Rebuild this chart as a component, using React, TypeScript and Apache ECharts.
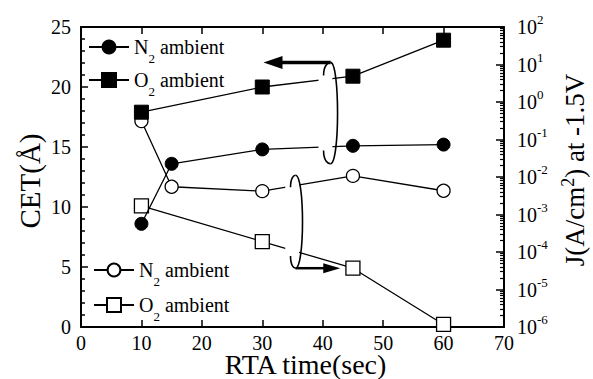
import { useEffect, useRef } from 'react';
import * as echarts from 'echarts';

// ---- data ----
const xTickValues = [0, 10, 20, 30, 40, 50, 60, 70];
const cetN2X = [10, 15, 30, 45, 60];
const cetN2 = [8.6, 13.6, 14.8, 15.1, 15.2];
const cetO2X = [10, 30, 45, 60];
const cetO2 = [17.9, 20.0, 20.9, 23.9];
const jN2X = [10, 15, 30, 45, 60];
const jN2 = [0.31, 5.5e-3, 4.2e-3, 1.07e-2, 4.3e-3];
const jO2X = [10, 30, 45, 60];
const jO2 = [1.7e-3, 1.9e-4, 3.7e-5, 1.17e-6];
const cetTicks = [0, 5, 10, 15, 20, 25];
const jExponents = [-6, -5, -4, -3, -2, -1, 0, 1, 2];

const FONT = 'Liberation Serif';

const pts = (xs: number[], ys: number[]) => xs.map((x, i) => [x, ys[i]]);

const minorExp: number[] = [];
for (let e = jExponents[0]; e < jExponents[jExponents.length - 1]; e++) {
  for (let k = 2; k <= 9; k++) minorExp.push(e + Math.log10(k));
}

const legendText = (name: string) =>
  name.startsWith('N') ? '{t|N}{sub|2}{t| ambient}' : '{t|O}{sub|2}{t| ambient}';

const legendRich = {
  t: { fontSize: 20, fontFamily: FONT, color: '#000', lineHeight: 20 },
  sub: { fontSize: 13, fontFamily: FONT, color: '#000', lineHeight: 13, padding: [22, 0, 0, 0] },
};

type C = (x: number, y: number) => number[];

const gapPoly = (c: C, xs: number[], ys: number[], i: number, xa: number, xb: number) => {
  const p0 = c(xs[i], ys[i]);
  const p1 = c(xs[i + 1], ys[i + 1]);
  const ax = c(xa, ys[i])[0];
  const bx = c(xb, ys[i])[0];
  const yAt = (X: number) => p0[1] + ((X - p0[0]) / (p1[0] - p0[0])) * (p1[1] - p0[1]);
  return {
    type: 'polygon',
    shape: { points: [[ax, yAt(ax) - 3.5], [bx, yAt(bx) - 3.5], [bx, yAt(bx) + 3.5], [ax, yAt(ax) + 3.5]] },
    style: { fill: '#fff', stroke: null },
  };
};

const lasso = (top: number[], bot: number[], w: number, hw: number) => {
  const x = top[0];
  const y = top[1];
  const h = bot[1] - top[1];
  const st = { stroke: '#000', fill: null, lineWidth: 1.6 };
  return [
    { type: 'bezierCurve', shape: { x1: x - hw, y1: y + 0.13 * h, cpx1: x - hw, cpy1: y + 0.03 * h, cpx2: x - hw * 0.4, cpy2: y, x2: x, y2: y }, style: st },
    { type: 'bezierCurve', shape: { x1: x, y1: y, cpx1: x + w * 1.33, cpy1: y, cpx2: x + w * 1.33, cpy2: y + h, x2: x, y2: y + h }, style: st },
    { type: 'bezierCurve', shape: { x1: x, y1: y + h, cpx1: x - hw * 0.4, cpy1: y + h, cpx2: x - hw, cpy2: y + 0.97 * h, x2: x - hw, y2: y + 0.87 * h }, style: st },
  ];
};

const CSS = `#cet-chart text, #cet-chart tspan { font-family: "Liberation Serif", "Times New Roman", serif !important; }`;

export default function App() {
  const ref = useRef<HTMLDivElement>(null);
  useEffect(() => {
    if (!ref.current) return;
    const chart = echarts.init(ref.current, undefined, { renderer: 'svg' });
    const axisLine = { show: true, onZero: false, lineStyle: { color: '#000', width: 2 } };
    const mkLegend = (name: string, left: number, centerY: number, ih: number) => ({
      data: [name],
      left,
      top: centerY - 17.5,
      padding: 0,
      itemWidth: 40,
      itemHeight: ih,
      selectedMode: false,
      formatter: legendText,
      textStyle: { rich: legendRich, fontFamily: FONT, fontSize: 20, color: '#000' },
    });
    const option: any = {
      animation: false,
      textStyle: { fontFamily: FONT },
      grid: { left: 81, right: 89, top: 27, bottom: 52, containLabel: false, outerBoundsMode: 'none' },
      legend: [
        mkLegend('N2 CET', 88, 47, 16),
        mkLegend('O2 CET', 88, 80, 17.5),
        mkLegend('N2 J', 93, 270, 16),
        mkLegend('O2 J', 93, 305, 17.5),
      ],
      xAxis: [
        {
          type: 'value', min: xTickValues[0], max: xTickValues[xTickValues.length - 1], interval: 10,
          axisLine, splitLine: { show: false },
          axisTick: { inside: true, length: 7, lineStyle: { color: '#000', width: 1.5 } },
          axisLabel: { color: '#000', fontSize: 20, fontFamily: FONT, margin: 6 },
          name: 'RTA time(sec)', nameLocation: 'middle', nameGap: 23, nameMoveOverlap: false,
          nameTextStyle: { fontSize: 28, fontFamily: FONT, color: '#000', padding: [0, 0, 0, 26] },
        },
        {
          type: 'value', position: 'top', min: xTickValues[0], max: xTickValues[xTickValues.length - 1], interval: 10,
          axisLine, splitLine: { show: false },
          axisTick: { inside: true, length: 7, lineStyle: { color: '#000', width: 1.5 } },
          axisLabel: { show: false },
        },
      ],
      yAxis: [
        {
          type: 'value', min: cetTicks[0], max: cetTicks[cetTicks.length - 1], interval: 5, position: 'left',
          axisLine, splitLine: { show: false },
          axisTick: { inside: true, length: 7, lineStyle: { color: '#000', width: 1.5 } },
          minorTick: { show: true, splitNumber: 5, length: 4, lineStyle: { color: '#000', width: 1.5 } },
          minorSplitLine: { show: false },
          axisLabel: { color: '#000', fontSize: 20, fontFamily: FONT, margin: 10 },
          name: 'CET(Å)', nameLocation: 'middle', nameGap: 37, nameMoveOverlap: false,
          nameTextStyle: { fontSize: 29, fontFamily: FONT, color: '#000', padding: [0, 8, 0, 0] },
        },
        {
          type: 'log', logBase: 10, min: Math.pow(10, jExponents[0]), max: Math.pow(10, jExponents[jExponents.length - 1]),
          interval: 1, splitNumber: 8, position: 'right',
          axisLine, splitLine: { show: false },
          axisTick: { inside: true, length: 8, lineStyle: { color: '#000', width: 1.5 } },
          axisLabel: {
            margin: 13, fontFamily: FONT, fontSize: 20, color: '#000',
            formatter: (v: number) => `{b|10}{s|${Math.round(Math.log10(v))}}`,
            rich: {
              b: { fontSize: 20, fontFamily: FONT, color: '#000' },
              s: { fontSize: 13, fontFamily: FONT, color: '#000', padding: [0, 0, 15, 0] },
            },
          },
          name: 'J(A/cm{sup|2}) at -1.5V', nameLocation: 'middle', nameGap: 55, nameMoveOverlap: false,
          nameTextStyle: {
            fontSize: 27, fontFamily: FONT, color: '#000', padding: [0, 0, 0, 14],
            rich: {
              sup: { fontSize: 18, fontFamily: FONT, color: '#000', padding: [0, 0, 14, 0] },
            },
          },
        },
        {
          type: 'value', min: jExponents[0], max: jExponents[jExponents.length - 1], position: 'right',
          axisLine: { show: false, onZero: false }, splitLine: { show: false }, axisLabel: { show: false },
          axisTick: { show: true, inside: true, length: 4, customValues: minorExp, lineStyle: { color: '#000', width: 1.2 } },
        },
      ],
      series: [
        {
          name: 'N2 J', type: 'line', yAxisIndex: 1, data: pts(jN2X, jN2), symbol: 'circle', symbolSize: 13,
          lineStyle: { color: '#000', width: 1.3 },
          itemStyle: { color: '#fff', borderColor: '#000', borderWidth: 1.3 }, z: 2,
        },
        {
          name: 'O2 J', type: 'line', yAxisIndex: 1, data: pts(jO2X, jO2), symbol: 'rect', symbolSize: 14,
          lineStyle: { color: '#000', width: 1.3 },
          itemStyle: { color: '#fff', borderColor: '#000', borderWidth: 1.3 }, z: 2,
        },
        {
          name: 'N2 CET', type: 'line', yAxisIndex: 0, data: pts(cetN2X, cetN2), symbol: 'circle', symbolSize: 13,
          lineStyle: { color: '#000', width: 1.3 },
          itemStyle: { color: '#000', borderColor: '#000', borderWidth: 1 }, z: 3,
        },
        {
          name: 'O2 CET', type: 'line', yAxisIndex: 0, data: pts(cetO2X, cetO2), symbol: 'rect', symbolSize: 14,
          lineStyle: { color: '#000', width: 1.3 },
          itemStyle: { color: '#000', borderColor: '#000', borderWidth: 1 }, z: 3,
        },
        {
          name: 'J gaps', type: 'custom', yAxisIndex: 1, z: 5, silent: true, clip: false,
          data: [[jN2X[0], jN2[0]]],
          renderItem: (_p: any, api: any) => {
            const c: C = (x, y) => api.coord([x, y]);
            return {
              type: 'group',
              children: [gapPoly(c, jN2X, jN2, 2, 33.8, 36.1), gapPoly(c, jO2X, jO2, 1, 33.8, 36.1)],
            };
          },
        },
        {
          name: 'CET annotations', type: 'custom', yAxisIndex: 0, z: 6, silent: true, clip: false,
          data: [[cetN2X[0], cetN2[0]]],
          renderItem: (_p: any, api: any) => {
            const c: C = (x, y) => api.coord([x, y]);
            const uTop = c(41.3, 22.05);
            const uBot = c(41.3, 13.6);
            const uTip = c(30.2, 22.05);
            const lTop = c(35.5, 12.65);
            const lBot = c(35.5, 4.9);
            const lTip = c(42.9, 4.9);
            return {
              type: 'group',
              children: [
                gapPoly(c, cetO2X, cetO2, 1, 39.3, 41.6),
                gapPoly(c, cetN2X, cetN2, 2, 39.3, 41.6),
                ...lasso(uTop, uBot, 7, 7),
                {
                  type: 'line',
                  shape: { x1: uTop[0], y1: uTop[1], x2: uTip[0] + 17, y2: uTop[1] },
                  style: { stroke: '#000', lineWidth: 3.5 },
                },
                {
                  type: 'polygon',
                  shape: { points: [[uTip[0], uTip[1]], [uTip[0] + 19, uTip[1] - 6.5], [uTip[0] + 19, uTip[1] + 6.5]] },
                  style: { fill: '#000' },
                },
                ...lasso(lTop, lBot, 7, 5),
                {
                  type: 'line',
                  shape: { x1: lBot[0], y1: lBot[1], x2: lTip[0] - 14, y2: lBot[1] },
                  style: { stroke: '#000', lineWidth: 2.5 },
                },
                {
                  type: 'polygon',
                  shape: { points: [[lTip[0], lTip[1]], [lTip[0] - 17, lTip[1] - 5], [lTip[0] - 17, lTip[1] + 5]] },
                  style: { fill: '#000' },
                },
              ],
            };
          },
        },
      ],
    };
    chart.setOption(option);

    return () => chart.dispose();
  }, []);
  return (
    <>
      <style>{CSS}</style>
      <div id="cet-chart" ref={ref} style={{ position: 'fixed', left: 0, top: 0, width: 593, height: 379, background: '#fff' }} />
    </>
  );
}
